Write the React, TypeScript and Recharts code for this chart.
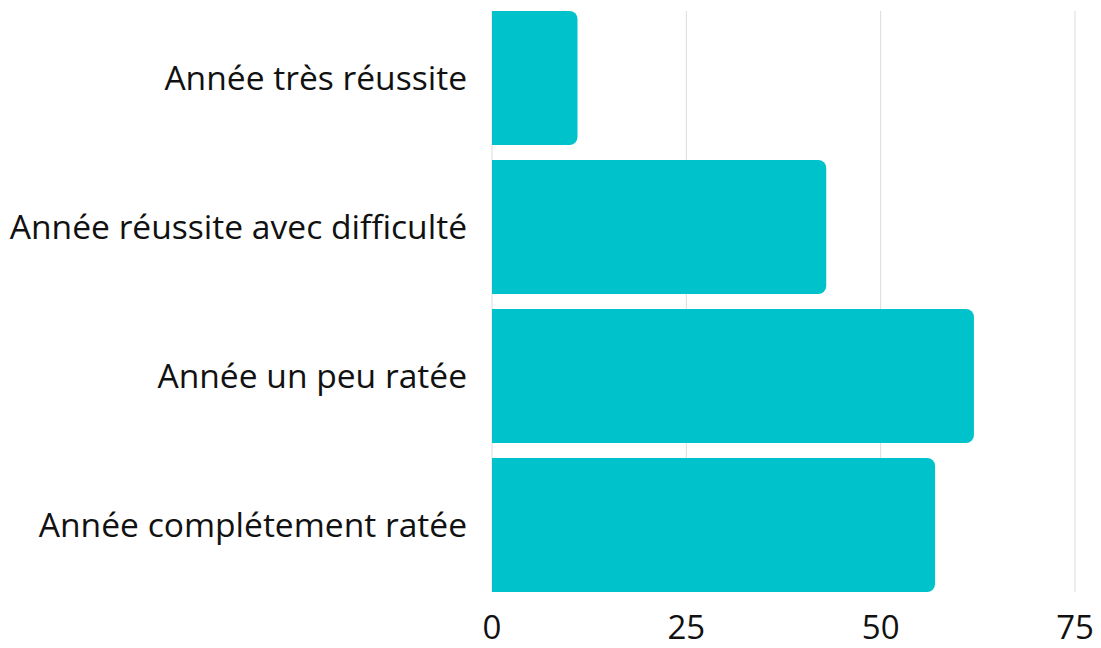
import React from 'react';
import { BarChart, Bar, XAxis, YAxis, CartesianGrid } from 'recharts';

const categories = [
  'Année très réussite',
  'Année réussite avec difficulté',
  'Année un peu ratée',
  'Année complétement ratée',
];
const values = [11, 43, 62, 57];
const xTicks = [0, 25, 50, 75];

const data = categories.map((name, i) => ({ name, value: values[i] }));

const yTickStyle = { fill: '#111111', fontSize: 33.6, fontFamily: '"Open Sans", sans-serif' };
const xTickStyle = { fill: '#111111', fontSize: 33, fontFamily: '"Open Sans", sans-serif' };

const App: React.FC = () => {
  return (
    <BarChart
      width={1085}
      height={640}
      data={data}
      layout="vertical"
      margin={{ top: 3, right: 18, bottom: 0, left: 0 }}
      barCategoryGap={7.5}
    >
      <CartesianGrid horizontal={false} stroke="#dcdcdc" />
      <XAxis
        type="number"
        domain={[0, 75]}
        ticks={xTicks}
        axisLine={false}
        tickLine={false}
        tickSize={0}
        tickMargin={24}
        height={56}
        tick={xTickStyle}
      />
      <YAxis
        type="category"
        dataKey="name"
        width={484}
        axisLine={false}
        tickLine={false}
        tickSize={0}
        tickMargin={25}
        padding={{ top: -7.5, bottom: -7.5 }}
        tick={yTickStyle}
      />
      <Bar dataKey="value" fill="#00c2cb" radius={[0, 8, 8, 0]} isAnimationActive={false} />
    </BarChart>
  );
};

export default App;
